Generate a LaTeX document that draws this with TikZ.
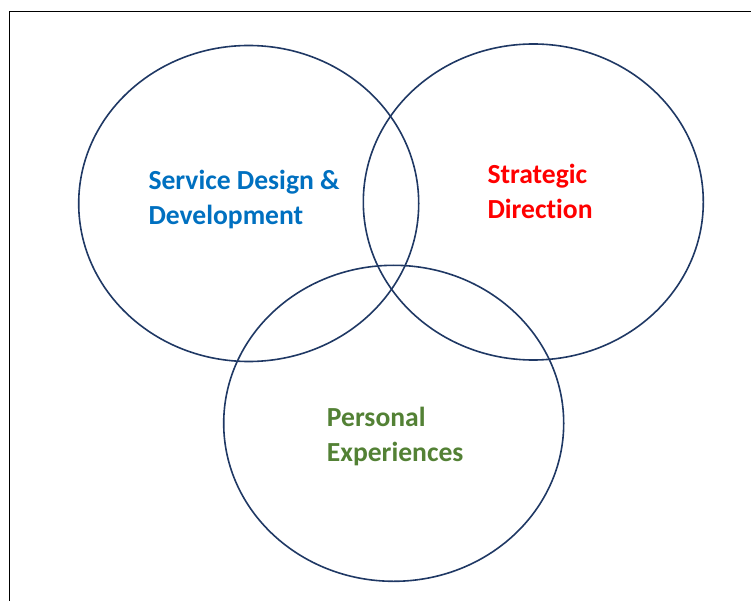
\documentclass[tikz,border=0pt]{standalone}
\usepackage{fontspec}
\setmainfont{Carlito}[Ligatures=NoCommon]
\usetikzlibrary{shapes.geometric}
\definecolor{ringcol}{HTML}{1F3864}
\definecolor{bluetxt}{HTML}{0070C0}
\definecolor{redtxt}{HTML}{FF0000}
\definecolor{greentxt}{HTML}{538135}
\tikzset{
  ring/.style={draw=ringcol, line width=1.6pt, ellipse, inner sep=0pt,
    minimum width=340pt, minimum height=316pt},
  label/.style={anchor=base west, align=left, inner sep=0pt,
    font=\fontsize{27.6}{35}\selectfont\bfseries},
  frameline/.style={draw=black, line width=1pt}
}
\begin{document}
\begin{tikzpicture}[x=1pt,y=-1pt]
\useasboundingbox (0,0) rectangle (751,601);
\coordinate (fbl) at (9.5,601);
\coordinate (ftl) at (9.5,11.5);
\coordinate (ftr) at (751,11.5);
\draw[frameline] (fbl) -- (ftl) -- (ftr);
\node[ring] (left) at (248.7,203.5) {};
\node[ring] (right) at (533.3,202) {};
\node[ring] (bottom) at (393.7,423.3) {};
\node[label, text=bluetxt] (sdd) at (148.3,225) {Service Design \&\\Development};
\node[label, text=redtxt] (sd) at (487.3,218.5) {Strategic\\Direction};
\node[label, text=greentxt] (pe) at (326.7,461.7) {Personal\\Experiences};
\end{tikzpicture}
\end{document}
